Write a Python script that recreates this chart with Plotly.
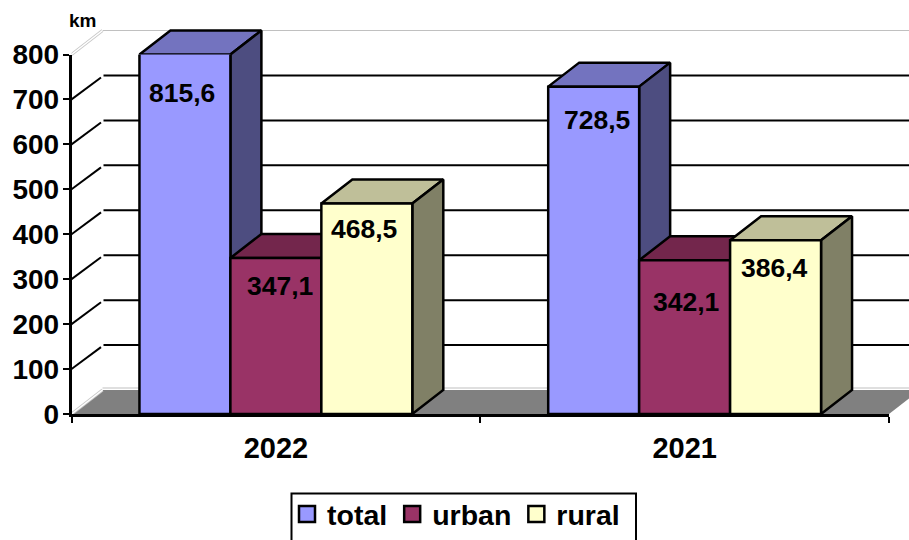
import plotly.graph_objects as go

# ---- data ----
categories = ["2022", "2021"]
total = [815.6, 728.5]
urban = [347.1, 342.1]
rural = [468.5, 386.4]
series_names = ["total", "urban", "rural"]
y_ticks = [0, 100, 200, 300, 400, 500, 600, 700, 800]
unit = "km"

# ---- style ----
W, H = 909, 540
FONT = "Liberation Sans"
front_cols = ["#9999FF", "#993366", "#FFFFCC"]
top_cols = ["#7373BF", "#73264C", "#BFBF99"]
side_cols = ["#4D4D80", "#4D1A33", "#808066"]
LW = 2.5
y_max = y_ticks[-1]

# pixel layout of the front plane
px_left, px_right, px_zero, px_top = 71.5, 889.0, 414.0, 54.5
px_per_cat = (px_right - px_left) / len(categories)
px_per_val = (px_zero - px_top) / y_max
dx = 31 / px_per_cat            # depth in category units
dy = 24 / px_per_val            # depth in value units
group_gap = 0.3325
bar_w = (1 - group_gap) / 3

# wider scene behind the front plane, same scale
scene_top_px, scene_bot_px = 10.0, 425.0
xr = [-0.5, -0.5 + (W - px_left) / px_per_cat]
yr = [-(scene_bot_px - px_zero) / px_per_val, (px_zero - scene_top_px) / px_per_val]

fig = go.Figure()

def line(xs, ys, color, width):
    fig.add_trace(go.Scatter(x=xs, y=ys, mode="lines", line=dict(color=color, width=width),
                             hoverinfo="skip", showlegend=False, xaxis="x", yaxis="y"))

x_l, x_r = -0.5, -0.5 + len(categories)
# floor
fig.add_trace(go.Scatter(x=[x_l, x_l + dx, x_r + dx, x_r, x_l], y=[0, dy, dy, 0, 0], mode="lines",
                         fill="toself", fillcolor="#808080", line=dict(color="#808080", width=0),
                         hoverinfo="skip", showlegend=False, xaxis="x", yaxis="y"))
# wall edges
line([x_l + dx, xr[1]], [y_max + dy, y_max + dy], "#C0C0C0", 1)
line([x_l + dx, xr[1]], [dy + 2 / px_per_val, dy + 2 / px_per_val], "#C0C0C0", 1.2)
for v in (0, y_max):
    line([x_l, x_l + dx], [v, v + dy], "#C8C8C8", 3)
    line([x_l, x_l + dx], [v, v + dy], "#FFFFFF", 1.5)
# gridlines on the back wall and the side wall
gap = 3 / px_per_cat
for v in y_ticks[1:-1]:
    line([x_l, x_l + dx - gap / 2], [v, v + dy - gap * px_per_cat / px_per_val * 0.7], "#000000", 2)
    line([x_l + dx + gap / 3, xr[1]], [v + dy, v + dy], "#000000", 2)

# 3-D faces of each bar, derived from values
values = [total, urban, rural]
for s, vals in enumerate(values):
    tx, ty, sx, sy = [], [], [], []
    for c, v in enumerate(vals):
        v = min(v, y_max)
        a = c + (s - 1.5) * bar_w
        b = a + bar_w
        tx += [a, a + dx, b + dx, b, a, None]
        ty += [v, v + dy, v + dy, v, v, None]
        sx += [b, b + dx, b + dx, b, b, None]
        sy += [v, v + dy, dy, 0, v, None]
    for xs, ys, col in ((tx, ty, top_cols[s]), (sx, sy, side_cols[s])):
        fig.add_trace(go.Scatter(x=xs, y=ys, mode="lines", fill="toself", fillcolor=col,
                                 line=dict(color="#000000", width=LW), hoverinfo="skip",
                                 showlegend=False, xaxis="x", yaxis="y"))

# front faces
for s, vals in enumerate(values):
    fig.add_trace(go.Bar(x=categories, y=vals, name=series_names[s], marker=dict(color=front_cols[s],
                         line=dict(color="#000000", width=LW)), showlegend=False,
                         xaxis="x2", yaxis="y2"))

# legend entries
for s, name in enumerate(series_names):
    fig.add_trace(go.Scatter(x=[None], y=[None], mode="markers", name=name,
                             marker=dict(symbol="square", size=16, color=front_cols[s],
                                         line=dict(color="#000000", width=2.5)),
                             xaxis="x", yaxis="y"))

# data labels
label_drop = [[38, 33], [28, 42], [26, 28]]
label_nudge = [[-2.5, 3], [4.5, 1.5], [-2.5, -1.5]]
annotations = []
for s, vals in enumerate(values):
    for c, v in enumerate(vals):
        annotations.append(dict(x=c + (s - 1) * bar_w, y=min(v, y_max), xref="x2", yref="y2",
                                text=f"{v:.1f}".replace(".", ","), showarrow=False,
                                xshift=label_nudge[s][c], yshift=-label_drop[s][c],
                                font=dict(family=FONT, size=26.5, color="#000000", weight=700)))
annotations.append(dict(x=82 / W, y=1 - 21 / H, xref="paper", yref="paper", text=unit, showarrow=False,
                        xanchor="center", yanchor="middle",
                        font=dict(family=FONT, size=19, color="#000000", weight=700)))

fig.update_layout(
    width=W, height=H, autosize=False, margin=dict(l=0, r=0, t=0, b=0, autoexpand=False),
    paper_bgcolor="#FFFFFF", plot_bgcolor="rgba(0,0,0,0)", barmode="group", bargap=group_gap, bargroupgap=0,
    font=dict(family=FONT, color="#000000"),
    xaxis=dict(domain=[px_left / W, 1], range=xr, visible=False),
    yaxis=dict(domain=[1 - scene_bot_px / H, 1 - scene_top_px / H], range=yr, visible=False),
    xaxis2=dict(domain=[px_left / W, px_right / W], anchor="y2", type="category", categoryorder="array",
                categoryarray=categories, range=[-0.5, 1.5], tickson="boundaries", ticks="outside",
                ticklen=6, tickwidth=2, tickcolor="#000000", showline=True, linecolor="#000000", linewidth=3,
                showgrid=False, zeroline=False, ticklabelstandoff=6,
                tickfont=dict(family=FONT, size=29, color="#000000", weight=700)),
    yaxis2=dict(domain=[1 - px_zero / H, 1 - px_top / H], anchor="x2", range=[0, y_max], tickvals=y_ticks,
                ticks="outside", ticklen=6, tickwidth=2, tickcolor="#000000", showline=True,
                linecolor="#000000", linewidth=2.5, showgrid=False, zeroline=False, ticklabelstandoff=-2,
                tickfont=dict(family=FONT, size=28, color="#000000", weight=700)),
    legend=dict(orientation="h", x=287 / W, xanchor="left", y=0, yanchor="bottom",
                bgcolor="rgba(0,0,0,0)", borderwidth=0, itemsizing="trace", itemwidth=30,
                font=dict(family=FONT, size=28.5, color="#000000", weight=700)),
    shapes=[dict(type="rect", xref="paper", yref="paper", x0=291.5 / W, x1=636 / W, y0=-0.05, y1=1 - 493.5 / H,
                 line=dict(color="#000000", width=2), fillcolor="#FFFFFF", layer="below")],
    annotations=annotations,
    showlegend=True,
)

fig.write_html("out.html", config={"displayModeBar": False},
               post_script="document.body.style.margin='0';")
